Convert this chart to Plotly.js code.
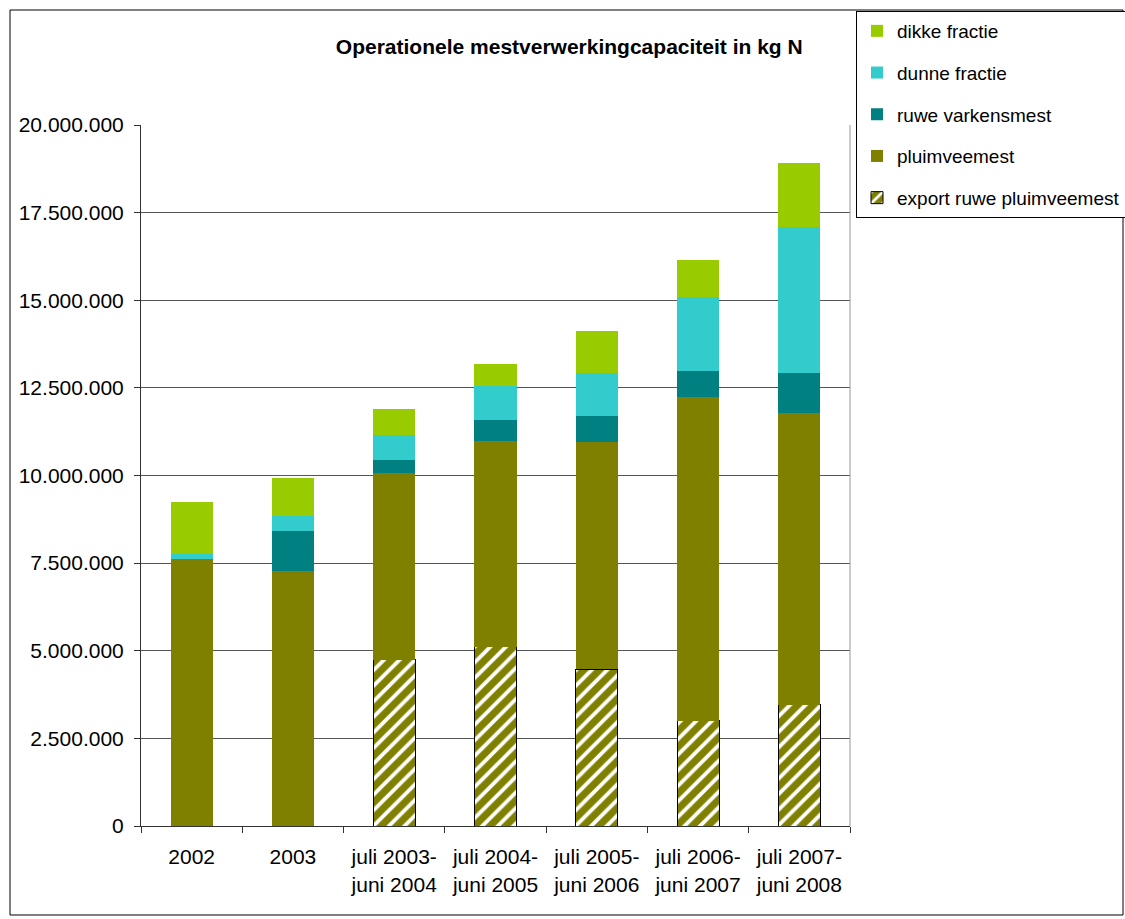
<!DOCTYPE html>
<html>
<head>
<meta charset="utf-8">
<script src="https://cdn.plot.ly/plotly-3.0.1.min.js"></script>
<style>html,body{margin:0;padding:0;background:#fff;}#chart{width:1125px;height:919px;}</style>
</head>
<body>
<div id="chart"></div>
<script>
const categories = ['2002', '2003', 'juli 2003-<br>juni 2004', 'juli 2004-<br>juni 2005', 'juli 2005-<br>juni 2006', 'juli 2006-<br>juni 2007', 'juli 2007-<br>juni 2008'];
const exportRuwePluimveemest = [null, null, 4750000, 5110000, 4470000, 3000000, 3460000];
const pluimveemest = [7620000, 7280000, 5310000, 5880000, 6490000, 9250000, 8320000];
const ruweVarkensmest = [0, 1150000, 390000, 600000, 750000, 740000, 1140000];
const dunneFractie = [140000, 420000, 710000, 960000, 1210000, 2100000, 4170000];
const dikkeFractie = [1480000, 1080000, 740000, 630000, 1200000, 1070000, 1830000];
const yTicks = [0, 2500000, 5000000, 7500000, 10000000, 12500000, 15000000, 17500000, 20000000];

const FONT = 'Liberation Sans, Arial, sans-serif';

const traces = [
  {name: 'export ruwe pluimveemest', y: exportRuwePluimveemest, legendrank: 5,
   marker: {color: '#808000', line: {color: '#000', width: 1},
            pattern: {shape: '/', fgcolor: '#ffffff', bgcolor: '#808000', size: 11, solidity: 0.35}}},
  {name: 'pluimveemest', y: pluimveemest, legendrank: 4, marker: {color: '#808000', line: {width: 0}}},
  {name: 'ruwe varkensmest', y: ruweVarkensmest, legendrank: 3, marker: {color: '#008080', line: {width: 0}}},
  {name: 'dunne fractie', y: dunneFractie, legendrank: 2, marker: {color: '#33CCCC', line: {width: 0}}},
  {name: 'dikke fractie', y: dikkeFractie, legendrank: 1, marker: {color: '#99CC00', line: {width: 0}}}
].map((t, i) => Object.assign({type: 'bar', x: categories, legendgroup: 'g' + i, hoverinfo: 'name+y'}, t));

const layout = {
  width: 1125, height: 919,
  margin: {l: 141, r: 275, t: 125, b: 93, autoexpand: false},
  paper_bgcolor: '#fff', plot_bgcolor: '#fff',
  separators: ',.',
  font: {family: FONT, size: 21, color: '#000'},
  barmode: 'stack',
  bargap: 0.585,
  title: {text: '<b>Operationele mestverwerkingcapaciteit in kg N</b>',
          font: {family: FONT, size: 21, color: '#000'},
          x: 0.506, xref: 'container', xanchor: 'center',
          y: 1 - 47 / 919, yref: 'container', yanchor: 'middle'},
  xaxis: {type: 'category', showgrid: false, zeroline: false,
          showline: true, linecolor: '#333', linewidth: 1,
          ticks: 'outside', tickson: 'boundaries', ticklen: 6, tickcolor: '#333',
          ticklabelstandoff: 12,
          tickfont: {family: FONT, size: 21, color: '#000'}},
  yaxis: {range: [0, 20000000], tickvals: yTicks, tickformat: ',d',
          showgrid: true, gridcolor: '#555', gridwidth: 1, zeroline: false,
          showline: true, linecolor: '#333', linewidth: 1,
          ticks: 'outside', ticklen: 6, tickcolor: '#333',
          ticklabelstandoff: 6,
          tickfont: {family: FONT, size: 21, color: '#000'}},
  legend: {x: (856 - 141) / 709, xanchor: 'left', y: (826 - 11) / 701, yanchor: 'top',
           traceorder: 'grouped', tracegroupgap: 14,
           bordercolor: '#000', borderwidth: 1, bgcolor: '#fff',
           itemwidth: 30,
           font: {family: FONT, size: 19, color: '#000'}},
  shapes: [
    {type: 'line', xref: 'paper', yref: 'paper', x0: 1, x1: 1, y0: 0, y1: 1,
     line: {color: '#999', width: 1}},
    {type: 'rect', xref: 'paper', yref: 'paper',
     x0: (10 - 141) / 709, x1: (1123 - 141) / 709, y0: (826 - 915) / 701, y1: (826 - 10) / 701,
     line: {color: '#000', width: 1}, fillcolor: 'rgba(0,0,0,0)', layer: 'below'}
  ],
  showlegend: true
};

Plotly.newPlot('chart', traces, layout, {displayModeBar: false, staticPlot: true});
</script>
</body>
</html>
